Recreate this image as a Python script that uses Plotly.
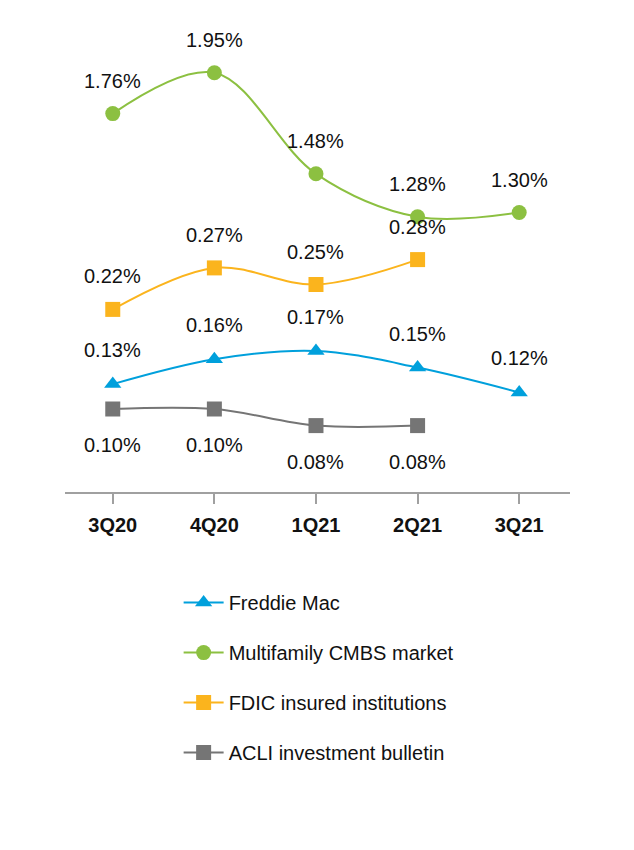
import plotly.graph_objects as go

quarters = ["3Q20", "4Q20", "1Q21", "2Q21", "3Q21"]
freddie = [0.13, 0.16, 0.17, 0.15, 0.12]
cmbs = [1.76, 1.95, 1.48, 1.28, 1.30]
fdic = [0.22, 0.27, 0.25, 0.28, None]
acli = [0.10, 0.10, 0.08, 0.08, None]

C_BLUE = "#00a0dc"
C_GREEN = "#8cc041"
C_ORANGE = "#fbb41d"
C_GRAY = "#757575"

FONT = "Liberation Sans, Arial, sans-serif"

fig = go.Figure()

def add(name, vals, color, symbol, yaxis, group):
    fig.add_trace(go.Scatter(
        x=quarters, y=vals, name=name, mode="lines+markers",
        line=dict(color=color, width=2, shape="spline", smoothing=1),
        marker=dict(color=color, symbol=symbol, size=15),
        yaxis=yaxis, legendgroup=group, connectgaps=False,
    ))

add("Freddie Mac", freddie, C_BLUE, "triangle-up", "y", "g1")
add("Multifamily CMBS market", cmbs, C_GREEN, "circle", "y2", "g2")
add("FDIC insured institutions", fdic, C_ORANGE, "square", "y", "g3")
add("ACLI investment bulletin", acli, C_GRAY, "square", "y", "g4")

annotations = []
def labels(vals, yref, shift):
    for q, v in zip(quarters, vals):
        if v is None:
            continue
        annotations.append(dict(
            x=q, y=v, xref="x", yref=yref, text=f"{v:.2f}%", showarrow=False,
            yshift=shift, font=dict(family=FONT, size=20, color="#111111"),
        ))

labels(cmbs, "y2", 33)
labels(fdic, "y", 33)
labels(freddie, "y", 34)
labels(acli, "y", -36)

fig.update_layout(
    width=634, height=850,
    margin=dict(l=57, r=72, t=12, b=366),
    plot_bgcolor="white", paper_bgcolor="white",
    font=dict(family=FONT, color="#111111"),
    showlegend=True,
    legend=dict(
        x=0.225, y=-0.193, xanchor="left", yanchor="top",
        font=dict(family=FONT, size=20, color="#111111"),
        tracegroupgap=21, itemwidth=40, bgcolor="rgba(0,0,0,0)",
    ),
    annotations=annotations,
    xaxis=dict(
        type="category", range=[-0.47, 4.5],
        showgrid=False, showline=True, linecolor="#a0a0a0", linewidth=2,
        ticks="outside", ticklen=10, tickwidth=2, tickcolor="#a0a0a0",
        ticklabelstandoff=4,
        tickfont=dict(family=FONT, size=20, color="#111111", weight="bold"),
        zeroline=False,
    ),
    yaxis=dict(range=[0, 472 / 830], visible=False, showgrid=False, zeroline=False),
    yaxis2=dict(range=[0, 472 / 215], visible=False, showgrid=False, zeroline=False,
                overlaying="y", side="right"),
)

fig.write_html("out.html")
